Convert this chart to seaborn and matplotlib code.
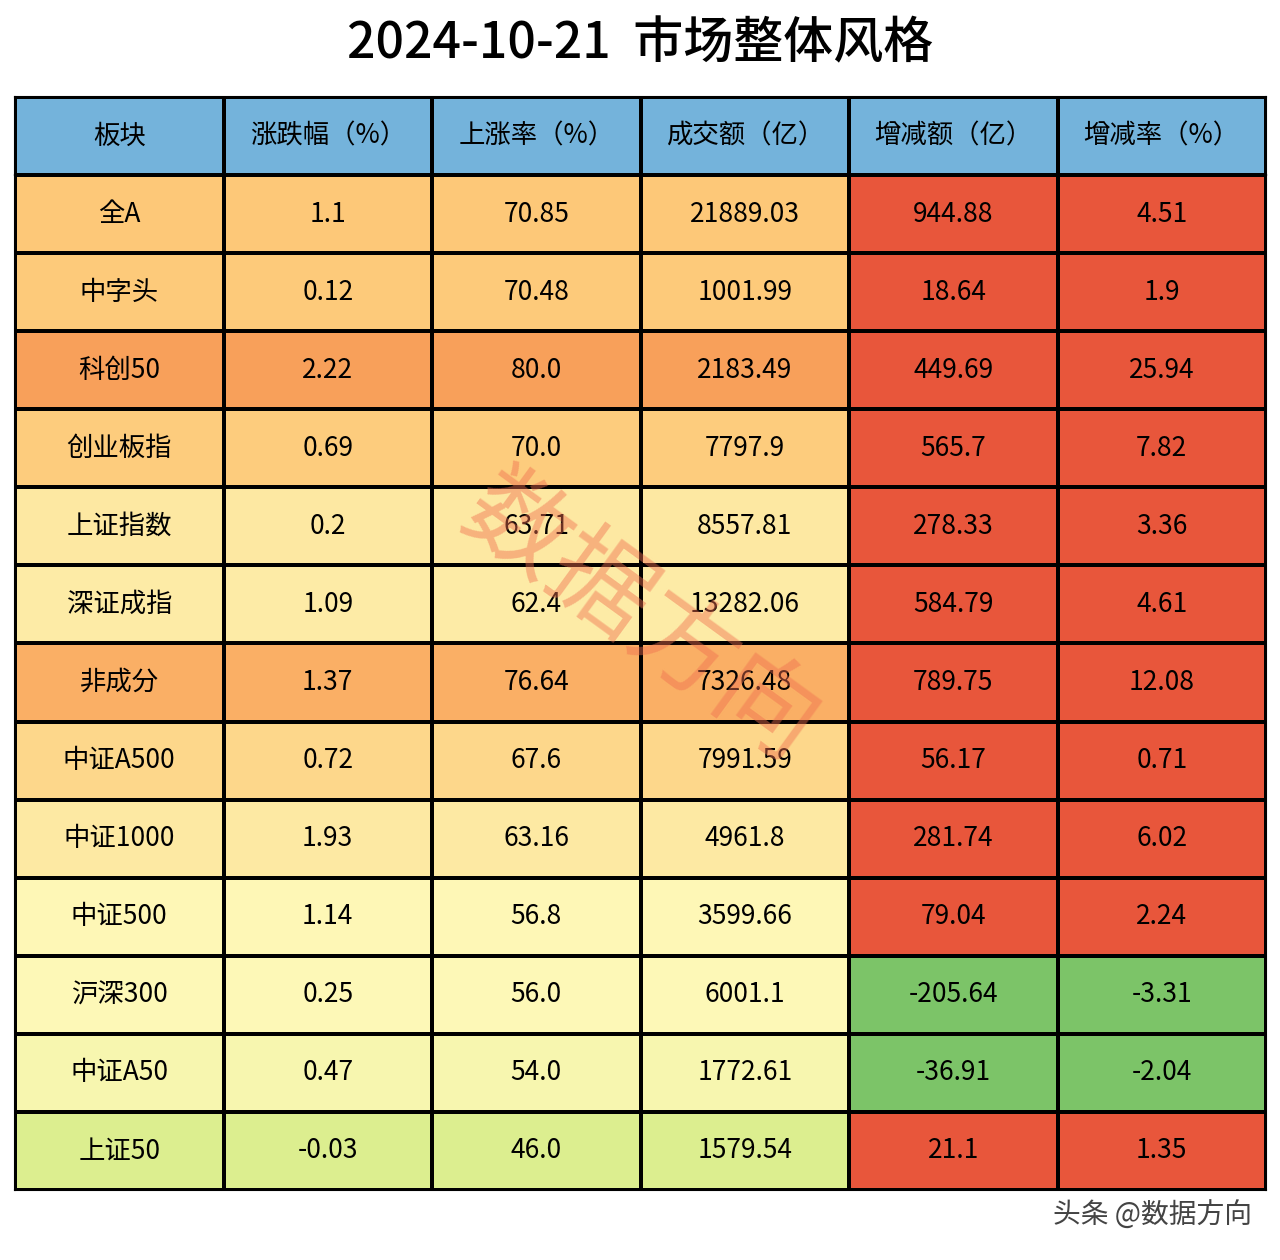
import numpy as np
import matplotlib
matplotlib.use("Agg")
import matplotlib.pyplot as plt
from matplotlib import font_manager
from matplotlib.colors import LinearSegmentedColormap, ListedColormap
import seaborn as sns

# find a CJK font
cjk = [f for f in font_manager.findSystemFonts() if "CJK" in f or "cjk" in f.lower()]
for f in cjk:
    try:
        font_manager.fontManager.addfont(f)
    except Exception:
        pass
names = sorted({font_manager.FontProperties(fname=f).get_name() for f in cjk})
fam = [n for n in names if "SC" in n] or names
plt.rcParams['font.family'] = [fam[0] if fam else 'Noto Sans CJK SC', 'DejaVu Sans']
plt.rcParams['axes.unicode_minus'] = False

title = "2024-10-21  市场整体风格"
headers = ["板块", "涨跌幅（%）", "上涨率（%）", "成交额（亿）", "增减额（亿）", "增减率（%）"]
boards = ["全A", "中字头", "科创50", "创业板指", "上证指数", "深证成指", "非成分",
          "中证A500", "中证1000", "中证500", "沪深300", "中证A50", "上证50"]
change_pct = ["1.1", "0.12", "2.22", "0.69", "0.2", "1.09", "1.37", "0.72", "1.93", "1.14", "0.25", "0.47", "-0.03"]
up_rate = ["70.85", "70.48", "80.0", "70.0", "63.71", "62.4", "76.64", "67.6", "63.16", "56.8", "56.0", "54.0", "46.0"]
turnover = ["21889.03", "1001.99", "2183.49", "7797.9", "8557.81", "13282.06", "7326.48",
            "7991.59", "4961.8", "3599.66", "6001.1", "1772.61", "1579.54"]
delta_amt = ["944.88", "18.64", "449.69", "565.7", "278.33", "584.79", "789.75",
             "56.17", "281.74", "79.04", "-205.64", "-36.91", "21.1"]
delta_rate = ["4.51", "1.9", "25.94", "7.82", "3.36", "4.61", "12.08",
              "0.71", "6.02", "2.24", "-3.31", "-2.04", "1.35"]

cols = [boards, change_pct, up_rate, turnover, delta_amt, delta_rate]
n = len(boards)
rate = np.array([float(v) for v in up_rate])
sign = np.array([1.0 if float(v) >= 0 else 0.0 for v in delta_amt])

left = np.tile(rate[:, None], (1, 6))
right = np.tile(sign[:, None], (1, 6))
mask_left = np.zeros((n, 6), bool); mask_left[:, 4:] = True
mask_right = ~mask_left

warm = LinearSegmentedColormap.from_list("warm", [
    (0.0, "#dcee8f"), (0.30, "#fef8b8"), (0.52, "#fde8a2"), (0.72, "#fdca7a"), (1.0, "#f8a05a")])
sgn = ListedColormap(["#7cc468", "#e8563b"])

fig = plt.figure(figsize=(12.8, 12.6), dpi=100)
fig.text(0.5, 0.965, title, ha='center', va='center', fontsize=36, fontweight='medium')

x0, w = 15 / 1280, 1251 / 1280
axh = fig.add_axes([x0, 1 - 175 / 1260, w, 78 / 1260])
sns.heatmap(np.ones((1, 6)), ax=axh, cmap=ListedColormap(["#74b3db"]), cbar=False,
            linewidths=1.5, linecolor='black')
for j, h in enumerate(headers):
    axh.text(j + 0.5, 0.5, h, ha='center', va='center', fontsize=19)

ax = fig.add_axes([x0, 1 - 1190 / 1260, w, 1015 / 1260])
sns.heatmap(left, mask=mask_left, ax=ax, cmap=warm, vmin=46, vmax=80, cbar=False,
            linewidths=1.5, linecolor='black')
sns.heatmap(right, mask=mask_right, ax=ax, cmap=sgn, vmin=0, vmax=1, cbar=False,
            linewidths=1.5, linecolor='black')
for j, col in enumerate(cols):
    for i, v in enumerate(col):
        ax.text(j + 0.5, i + 0.5, v, ha='center', va='center', fontsize=19)

for a in (axh, ax):
    a.set_xticks([]); a.set_yticks([])
    for s in a.spines.values():
        s.set_visible(True); s.set_linewidth(1.5)

fig.text(0.50, 0.508, "数据方向", ha='center', va='center', fontsize=74, color='#f07050',
         alpha=0.45, rotation=-36)
fig.text(0.978, 0.035, "头条 @数据方向", ha='right', va='center', fontsize=20, color='#444444')

fig.savefig("out.png", dpi=100)
